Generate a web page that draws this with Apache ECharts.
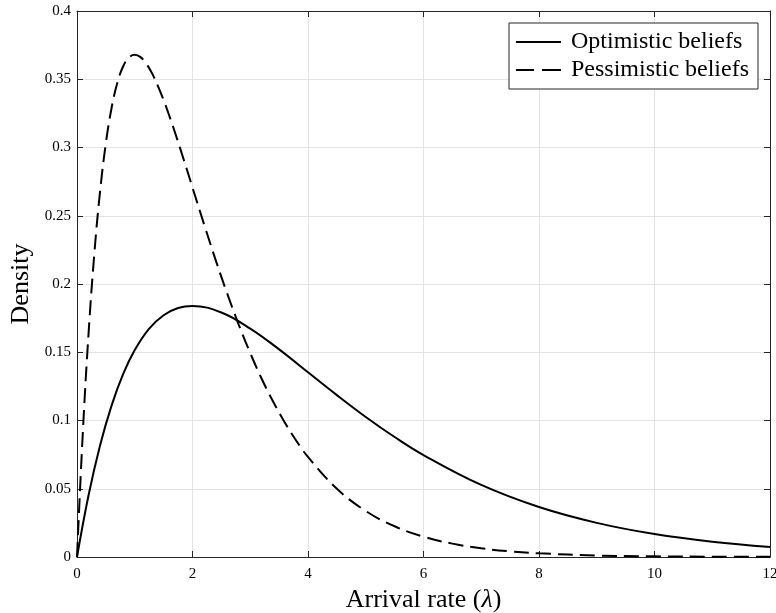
<!DOCTYPE html>
<html>
<head>
<meta charset="utf-8">
<script src="https://cdn.jsdelivr.net/npm/echarts@6/dist/echarts.min.js"></script>
<style>
  html, body { margin: 0; padding: 0; background: #fff; }
  #chart { width: 776px; height: 613px; }
</style>
</head>
<body>
<div id="chart"></div>
<script>
// Gamma-shaped prior densities over the arrival rate
const optimisticX = [0, 0.2, 0.4, 0.6, 0.8, 1, 1.25, 1.5, 1.75, 2, 2.5, 3, 3.5, 4, 4.5, 5, 5.5, 6, 7, 8, 9, 10, 11, 12];
const optimisticY = [0, 0.0452, 0.0819, 0.1111, 0.1341, 0.1516, 0.1673, 0.1771, 0.1824, 0.1839, 0.1791, 0.1673, 0.1521, 0.1353, 0.1186, 0.1026, 0.0879, 0.0747, 0.0528, 0.0366, 0.0250, 0.0168, 0.0112, 0.0074];

const pessimisticX = [0, 0.1, 0.2, 0.3, 0.4, 0.5, 0.6, 0.7, 0.8, 0.9, 1, 1.1, 1.2, 1.3, 1.4, 1.5, 1.6, 1.7, 1.8, 1.9, 2, 2.2, 2.4, 2.6, 2.8, 3, 3.2, 3.4, 3.6, 3.8, 4, 4.5, 5, 5.5, 6, 6.5, 7, 7.5, 8, 9, 10, 11, 12];
const pessimisticY = [0, 0.0905, 0.1637, 0.2222, 0.2681, 0.3033, 0.3293, 0.3476, 0.3595, 0.3659, 0.3679, 0.3662, 0.3614, 0.3543, 0.3452, 0.3347, 0.3230, 0.3106, 0.2975, 0.2842, 0.2707, 0.2438, 0.2177, 0.1931, 0.1703, 0.1494, 0.1304, 0.1135, 0.0984, 0.0850, 0.0733, 0.0500, 0.0337, 0.0225, 0.0149, 0.0098, 0.0064, 0.0041, 0.0027, 0.0011, 0.0005, 0.0002, 0.0001];

const seriesNames = ['Optimistic beliefs', 'Pessimistic beliefs'];
const xTicks = [0, 2, 4, 6, 8, 10, 12];
const yTicks = [0, 0.05, 0.1, 0.15, 0.2, 0.25, 0.3, 0.35, 0.4];

const FONT = '"Liberation Serif", "DejaVu Serif", serif';
const AXIS_COLOR = '#262626';
const GRID_COLOR = '#e3e3e3';

// Legend keys: a solid bar and a two-dash bar
const SOLID_ICON = 'path://M0,0h45v2h-45z';
const DASHED_ICON = 'path://M0,0h18v2h-18z M26,0h19v2h-19z';

const toPairs = (xs, ys) => xs.map((x, i) => [x, ys[i]]);

const chart = echarts.init(document.getElementById('chart'), null, { renderer: 'canvas' });

const baseX = {
  type: 'value',
  min: xTicks[0],
  max: xTicks[xTicks.length - 1],
  interval: 2,
  axisLine: { show: true, onZero: false, lineStyle: { color: AXIS_COLOR, width: 1 } },
  axisTick: { show: true, inside: true, length: 6, lineStyle: { color: AXIS_COLOR } },
  splitLine: { show: false }
};
const baseY = {
  type: 'value',
  min: yTicks[0],
  max: yTicks[yTicks.length - 1],
  interval: 0.05,
  axisLine: { show: true, onZero: false, lineStyle: { color: AXIS_COLOR, width: 1 } },
  axisTick: { show: true, inside: true, length: 6, lineStyle: { color: AXIS_COLOR } },
  splitLine: { show: false }
};

chart.setOption({
  animation: false,
  backgroundColor: '#ffffff',
  grid: { left: 77, right: 6, top: 11, bottom: 56, containLabel: false, outerBoundsMode: 'none' },
  legend: {
    data: [
      { name: seriesNames[0], icon: SOLID_ICON },
      { name: seriesNames[1], icon: DASHED_ICON }
    ],
    orient: 'vertical',
    right: 18,
    top: 23,
    backgroundColor: '#ffffff',
    borderColor: AXIS_COLOR,
    borderWidth: 1,
    borderRadius: 0,
    padding: [7, 9, 7, 7],
    itemWidth: 45,
    itemHeight: 2,
    itemGap: 4,
    textStyle: { fontFamily: FONT, fontSize: 24, color: '#000', padding: [0, 0, 0, 5] }
  },
  xAxis: [
    Object.assign({}, baseX, {
      position: 'bottom',
      splitLine: { show: true, lineStyle: { color: GRID_COLOR, width: 1 } },
      axisLabel: { show: true, margin: 10, fontFamily: FONT, fontSize: 15, color: '#000' },
      name: 'Arrival rate ({i|λ})',
      nameLocation: 'middle',
      nameGap: 27,
      nameTextStyle: {
        fontFamily: FONT, fontSize: 26, color: '#000',
        rich: { i: { fontFamily: FONT, fontSize: 26, fontStyle: 'italic', color: '#000' } }
      }
    }),
    Object.assign({}, baseX, { position: 'top', axisLabel: { show: false } })
  ],
  yAxis: [
    Object.assign({}, baseY, {
      position: 'left',
      splitLine: { show: true, lineStyle: { color: GRID_COLOR, width: 1 } },
      axisLabel: { show: true, margin: 6, fontFamily: FONT, fontSize: 15, color: '#000' },
      name: 'Density',
      nameLocation: 'middle',
      nameGap: 43,
      nameTextStyle: { fontFamily: FONT, fontSize: 26, color: '#000' }
    }),
    Object.assign({}, baseY, { position: 'right', axisLabel: { show: false } })
  ],
  series: [
    {
      name: seriesNames[0],
      type: 'line',
      xAxisIndex: 0,
      yAxisIndex: 0,
      data: toPairs(optimisticX, optimisticY),
      smooth: 0.4,
      symbol: 'none',
      showSymbol: false,
      lineStyle: { color: '#000', width: 2, type: 'solid' },
      itemStyle: { color: '#000' }
    },
    {
      name: seriesNames[1],
      type: 'line',
      xAxisIndex: 0,
      yAxisIndex: 0,
      data: toPairs(pessimisticX, pessimisticY),
      smooth: 0.4,
      symbol: 'none',
      showSymbol: false,
      lineStyle: { color: '#000', width: 2, type: [15, 7] },
      itemStyle: { color: '#000' }
    }
  ]
});
</script>
</body>
</html>
